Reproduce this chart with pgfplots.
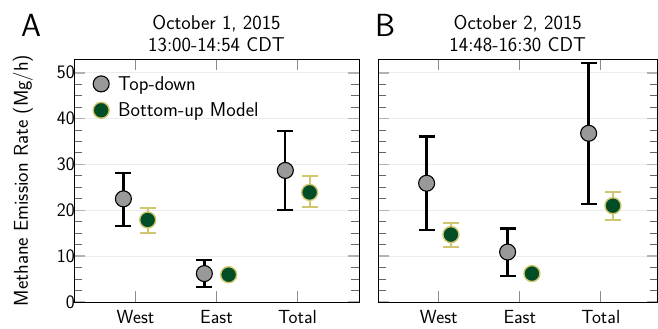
\documentclass[border=0pt]{standalone}
\usepackage{fontspec}
\usepackage{pgfplots}
\usepackage{pgfplotstable}
\pgfplotsset{compat=1.18}
\renewcommand{\familydefault}{\sfdefault}
\definecolor{tdgray}{RGB}{153,153,153}
\definecolor{bugreen}{RGB}{0,77,38}
\definecolor{bukhaki}{RGB}{208,198,110}
\definecolor{gridgray}{RGB}{236,236,236}

\pgfplotstableread{
x y ep em
-0.15 22.5 5.7 5.9
0.85 6.2 2.95 2.9
1.85 28.7 8.6 8.7
}\tdA
\pgfplotstableread{
x y ep em
0.15 17.9 2.7 2.9
1.15 5.95 0.7 0.7
2.15 23.9 3.5 3.1
}\buA
\pgfplotstableread{
x y ep em
-0.15 25.9 10.2 10.15
0.85 10.9 5.1 5.2
1.85 36.8 15.4 15.4
}\tdB
\pgfplotstableread{
x y ep em
0.15 14.7 2.5 2.6
1.15 6.2 0.7 0.7
2.15 21.0 2.9 3.1
}\buB

\pgfplotsset{
  myaxis/.style={
    scale only axis, height=243pt, ymin=0, ymax=53,
    xtick={0,1,2}, xticklabels={West,East,Total},
    ytick={0,10,...,50}, minor y tick num=3,
    tick align=inside,
    major tick length=11pt, minor tick length=8pt,
    major x tick style={color=black!45, line width=1.2pt},
    major y tick style={color=black!30, line width=1.5pt},
    minor y tick style={color=black!60, line width=1pt},
    ymajorgrids, major grid style={gridgray, line width=1pt},
    axis line style={black, line width=1pt},
    /pgf/number format/assume math mode=true,
    ticklabel style={font=\fontsize{19}{21}\selectfont},
    yticklabel style={inner xsep=0pt, xshift=1pt},
    xticklabel style={yshift=-5pt},
    clip=false,
  },
  tderr/.style={forget plot, draw=none, mark=none,
    error bars/.cd, y dir=both, y explicit,
    error bar style={draw=black, line width=2.3pt},
    error mark options={rotate=90, draw=black, mark size=8pt, line width=2.3pt}},
  buerr/.style={forget plot, draw=none, mark=none,
    error bars/.cd, y dir=both, y explicit,
    error bar style={draw=bukhaki, line width=2pt},
    error mark options={rotate=90, draw=bukhaki, mark size=8pt, line width=2pt}},
  tdmark/.style={only marks, mark=*, mark size=8pt,
    mark options={fill=tdgray, draw=black, line width=1.1pt}},
  bumark/.style={only marks, mark=*, mark size=8pt,
    mark options={fill=bugreen, draw=bukhaki, line width=1.4pt}},
}

\begin{document}
\begin{tikzpicture}
\useasboundingbox (0,0) rectangle (658pt,329pt);
\begin{axis}[myaxis, at={(74pt,27pt)}, anchor=south west,
  width=285pt, xmin=-0.76, xmax=2.76,
  ylabel={Methane Emission Rate (Mg/h)},
  every axis y label/.style={at={(axis description cs:-0.179,0.5)}, rotate=90, anchor=center, font=\fontsize{20}{22}\selectfont},
  legend style={at={(axis description cs:0,1)}, anchor=north west, draw=none, fill=none,
    xshift=16pt, yshift=-13pt, row sep=7pt, column sep=7pt,
    font=\fontsize{20}{22}\selectfont, nodes={inner ysep=2pt}},
  legend cell align=left]
\addplot[tderr] table[x=x, y=y, y error plus=ep, y error minus=em] {\tdA};
\addplot[tdmark] table[x=x, y=y] {\tdA};
\addlegendentry{Top-down}
\addplot[buerr] table[x=x, y=y, y error plus=ep, y error minus=em] {\buA};
\addplot[bumark] table[x=x, y=y] {\buA};
\addlegendentry{Bottom-up Model}
\node[anchor=base, font=\fontsize{20}{22}\selectfont] at (rel axis cs:0.5,1) [yshift=30pt] {October 1, 2015};
\node[anchor=base, font=\fontsize{20}{22}\selectfont] at (rel axis cs:0.5,1) [yshift=8pt] {13:00-14:54 CDT};
\end{axis}
\begin{axis}[myaxis, at={(378pt,27pt)}, anchor=south west,
  width=279.5pt, xmin=-0.75, xmax=2.70, yticklabels={}]
\addplot[tderr] table[x=x, y=y, y error plus=ep, y error minus=em] {\tdB};
\addplot[tdmark] table[x=x, y=y] {\tdB};
\addplot[buerr] table[x=x, y=y, y error plus=ep, y error minus=em] {\buB};
\addplot[bumark] table[x=x, y=y] {\buB};
\node[anchor=base, font=\fontsize{20}{22}\selectfont] at (rel axis cs:0.5,1) [yshift=30pt] {October 2, 2015};
\node[anchor=base, font=\fontsize{20}{22}\selectfont] at (rel axis cs:0.5,1) [yshift=8pt] {14:48-16:30 CDT};
\end{axis}
\node[anchor=base west, font=\fontsize{32}{34}\selectfont, inner sep=0pt] at (21pt,292pt) {A};
\node[anchor=base west, font=\fontsize{32}{34}\selectfont, inner sep=0pt] at (375pt,292pt) {B};
\end{tikzpicture}
\end{document}
